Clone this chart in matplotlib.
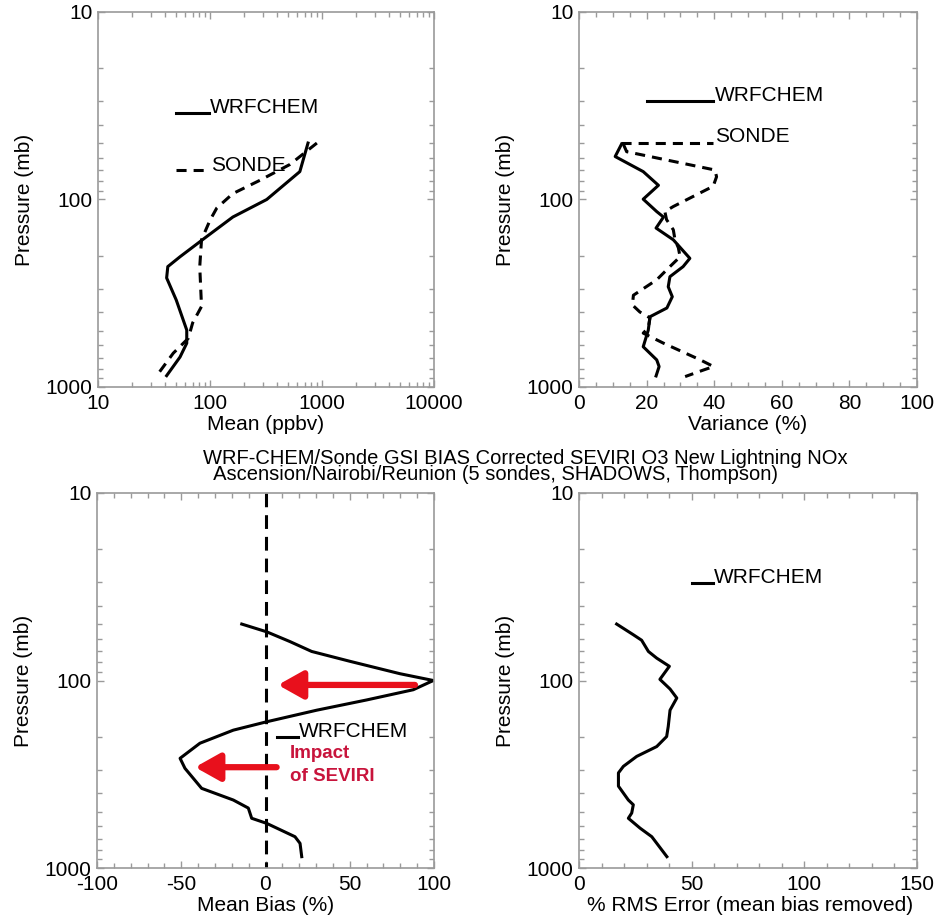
import matplotlib
matplotlib.use("Agg")
import matplotlib.pyplot as plt
from matplotlib.ticker import FixedLocator, NullFormatter, MultipleLocator

plt.rcParams['font.family'] = ['Liberation Sans', 'DejaVu Sans']
plt.rcParams['axes.unicode_minus'] = False

# ---------------- data ----------------
# Top-left: Mean (ppbv)
wrf_mean_p = [50, 71, 100, 124, 158, 202, 228, 262, 344, 497, 584, 692, 870]
wrf_mean = [750, 634, 321, 160, 93, 54, 42, 41, 50, 62, 62, 54, 41]
sonde_mean_p = [50, 65, 79, 93, 111, 129, 164, 228, 372, 455, 550, 660, 880]
sonde_mean = [900, 518, 279, 160, 115, 100, 84, 81, 84, 70, 64, 47, 33]

# Top-right: Variance (%)
wrf_var_p = [50.6, 59, 71, 84, 99.6, 116, 124, 142, 164, 206, 228, 258, 292, 330,
             379, 422, 497, 610, 717, 778, 873]
wrf_var = [12.6, 10.7, 19, 23.5, 19, 23, 25, 22.8, 27.9, 32.8, 30.8, 26.9, 26.4, 27.6,
           26, 21, 20.5, 19, 23, 23.7, 22.8]
sonde_var_p = [50.6, 55.6, 69.6, 75.6, 85, 109, 116, 128, 145, 164, 181, 202, 228, 268,
               324, 365, 398, 428, 484, 516, 584, 717, 778, 812, 880]
sonde_var = [13.1, 14.1, 40.2, 40.7, 39.7, 27.9, 25.4, 25.9, 27.9, 28.4, 29.4, 29.9, 26.9, 23,
             16.1, 15.8, 18, 21, 20.5, 19, 25, 35.9, 39.8, 36.8, 31.4]

# Bottom-left: Mean Bias (%)
bias_p = [50, 55, 62, 70, 79, 92, 100, 112, 127, 144, 166, 184, 216, 260, 294, 376,
          434, 479, 543, 578, 681, 739, 870]
bias = [-14.1, 0.7, 14.5, 27.4, 50.1, 79.8, 99.6, 87.7, 60, 30.4, 0.7, -19.1, -38.9,
        -50.7, -47.8, -37.9, -19.1, -10.2, -8.2, 0.7, 17.5, 20.5, 21.5]

# Bottom-right: % RMS Error
rms_p = [50, 57, 61, 70, 76, 84, 98.6, 111, 124, 144, 176, 199, 225, 254, 287, 311,
         366, 434, 460, 509, 543, 613, 681, 870]
rms = [16.7, 24.1, 27.8, 30.8, 34.5, 40.1, 35.9, 40.4, 43.4, 40.4, 39.6, 38.9, 34.5,
       25.6, 19.7, 17.5, 17.5, 21.9, 24.1, 23.4, 21.9, 27.1, 32.3, 39]

title1 = "WRF-CHEM/Sonde GSI BIAS Corrected SEVIRI O3 New Lightning NOx"
title2 = "Ascension/Nairobi/Reunion (5 sondes, SHADOWS, Thompson)"

# ---------------- style ----------------
FS = 15
LW = 2.2
DASH = (3.3, 2.3)
GRAY = '#9a9a9a'
RED_ARROW = '#e8101c'
RED_TEXT = '#c8143c'

fig = plt.figure(figsize=(9.34, 9.24), dpi=100)
W, H = 934, 924


def mk_ax(x0, y0, x1, y1):
    return fig.add_axes([x0 / W, 1 - y1 / H, (x1 - x0) / W, (y1 - y0) / H])


ax_tl = mk_ax(98, 12, 434, 387)
ax_tr = mk_ax(579, 12, 917, 387)
ax_bl = mk_ax(97, 493, 434, 868)
ax_br = mk_ax(579, 493, 917, 868)

for ax in (ax_tl, ax_tr, ax_bl, ax_br):
    ax.set_yscale('log')
    ax.set_ylim(1000, 10)
    ax.yaxis.set_major_locator(FixedLocator([10, 100, 1000]))
    ax.set_yticklabels(['10', '100', '1000'])
    ax.yaxis.set_minor_locator(FixedLocator([20, 30, 40, 50, 60, 70, 80, 90,
                                             200, 300, 400, 500, 600, 700, 800, 900]))
    ax.yaxis.set_minor_formatter(NullFormatter())
    for s in ax.spines.values():
        s.set_color(GRAY)
        s.set_linewidth(1.2)
    ax.tick_params(which='both', direction='in', top=True, right=True, color=GRAY,
                   labelsize=FS, width=1.0)
    ax.tick_params(which='major', length=5)
    ax.tick_params(which='minor', length=3.5)
    ax.tick_params(axis='x', which='both', pad=5)
    ax.tick_params(axis='y', which='both', pad=4)
    ax.set_ylabel('Pressure (mb)', fontsize=FS)
    ax.yaxis.set_label_coords(-0.19, 0.5)


def set_xlabel(ax, text, x=0.5):
    ax.set_xlabel(text, fontsize=FS)
    ax.xaxis.label.set_va('center')
    ax.xaxis.set_label_coords(x, -0.099)


# ---- top-left ----
ax = ax_tl
ax.set_xscale('log')
ax.set_xlim(10, 10000)
ax.xaxis.set_major_locator(FixedLocator([10, 100, 1000, 10000]))
ax.set_xticklabels(['10', '100', '1000', '10000'])
ax.xaxis.set_minor_locator(FixedLocator([m * 10 ** e for e in (1, 2, 3) for m in range(2, 10)]))
ax.xaxis.set_minor_formatter(NullFormatter())
ax.plot(wrf_mean, wrf_mean_p, color='black', lw=LW)
ax.plot(sonde_mean, sonde_mean_p, color='black', lw=LW, dashes=DASH)
set_xlabel(ax, 'Mean (ppbv)')
ax.plot([0.232, 0.330], [0.731, 0.731], transform=ax.transAxes, color='black', lw=LW)
ax.text(0.333, 0.731, 'WRFCHEM', transform=ax.transAxes, fontsize=FS, va='baseline')
ax.plot([0.232, 0.324], [0.579, 0.579], transform=ax.transAxes, color='black', lw=LW, dashes=DASH)
ax.text(0.336, 0.575, 'SONDE', transform=ax.transAxes, fontsize=FS, va='baseline')

# ---- top-right ----
ax = ax_tr
ax.set_xlim(0, 100)
ax.xaxis.set_major_locator(MultipleLocator(20))
ax.xaxis.set_minor_locator(MultipleLocator(5))
ax.plot(wrf_var, wrf_var_p, color='black', lw=LW)
ax.plot(sonde_var, sonde_var_p, color='black', lw=LW, dashes=DASH)
set_xlabel(ax, 'Variance (%)')
ax.plot([0.200, 0.396], [0.763, 0.763], transform=ax.transAxes, color='black', lw=LW)
ax.text(0.402, 0.763, 'WRFCHEM', transform=ax.transAxes, fontsize=FS, va='baseline')
ax.plot([0.124, 0.396], [0.651, 0.651], transform=ax.transAxes, color='black', lw=LW, dashes=DASH)
ax.text(0.402, 0.653, 'SONDE', transform=ax.transAxes, fontsize=FS, va='baseline')

# ---- bottom-left ----
ax = ax_bl
ax.set_xlim(-100, 100)
ax.xaxis.set_major_locator(MultipleLocator(50))
ax.xaxis.set_minor_locator(MultipleLocator(10))
ax.plot(bias, bias_p, color='black', lw=LW)
ax.plot([0, 0], [10, 1000], color='black', lw=LW, dashes=(4.5, 2.6))
set_xlabel(ax, 'Mean Bias (%)')
ax.plot([0.533, 0.597], [0.350, 0.350], transform=ax.transAxes, color='black', lw=LW)
ax.text(0.599, 0.350, 'WRFCHEM', transform=ax.transAxes, fontsize=FS, va='baseline')
ax.annotate('', xy=(7.4, 105.6), xytext=(88.7, 105.6),
            arrowprops=dict(arrowstyle='-|>,head_length=0.75,head_width=0.42',
                            color=RED_ARROW, lw=4.5, mutation_scale=20,
                            shrinkA=0, shrinkB=0))
ax.annotate('', xy=(-41.8, 290), xytext=(6.6, 290),
            arrowprops=dict(arrowstyle='-|>,head_length=0.75,head_width=0.42',
                            color=RED_ARROW, lw=4.5, mutation_scale=20,
                            shrinkA=0, shrinkB=0))
ax.text(0.573, 0.304, 'Impact', transform=ax.transAxes, fontsize=13.5,
        fontweight='bold', color=RED_TEXT, va='center')
ax.text(0.573, 0.243, 'of SEVIRI', transform=ax.transAxes, fontsize=13.5,
        fontweight='bold', color=RED_TEXT, va='center')

# ---- bottom-right ----
ax = ax_br
ax.set_xlim(0, 150)
ax.xaxis.set_major_locator(MultipleLocator(50))
ax.xaxis.set_minor_locator(MultipleLocator(10))
ax.plot(rms, rms_p, color='black', lw=LW)
set_xlabel(ax, '% RMS Error (mean bias removed)', x=0.506)
ax.plot([0.333, 0.396], [0.761, 0.761], transform=ax.transAxes, color='black', lw=LW)
ax.text(0.399, 0.761, 'WRFCHEM', transform=ax.transAxes, fontsize=FS, va='baseline')

# ---- title (two lines, second line slightly indented) ----
fig.text(203 / W, 1 - 466.5 / H, title1 + "\n  " + title2, ha='left', va='center',
         multialignment='left', fontsize=14.5, linespacing=0.85)

fig.savefig('out.png', dpi=100)
